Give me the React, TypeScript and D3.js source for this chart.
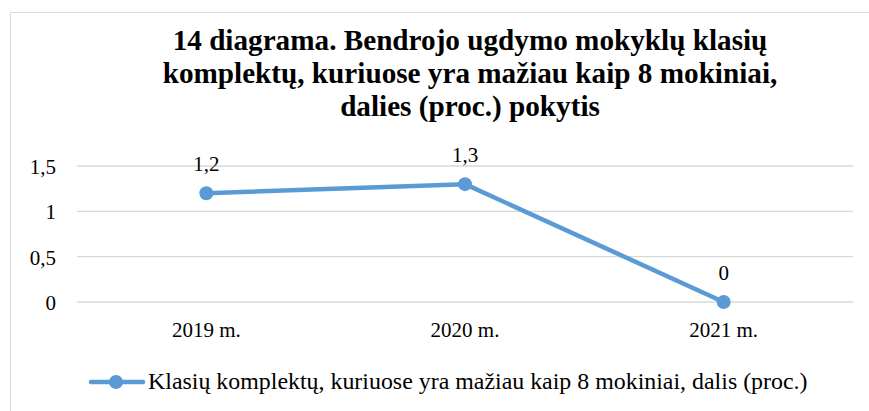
import React from "react";
import * as d3 from "d3";

const categories = ["2019 m.", "2020 m.", "2021 m."];
const values = [1.2, 1.3, 0];
const valueLabels = ["1,2", "1,3", "0"];
const yTicks = [0, 0.5, 1, 1.5];
const yTickLabels = ["0", "0,5", "1", "1,5"];
const titleLines = [
  "14 diagrama. Bendrojo ugdymo mokyklų klasių",
  "komplektų, kuriuose yra mažiau kaip 8 mokiniai,",
  "dalies (proc.) pokytis",
];
const seriesName = "Klasių komplektų, kuriuose yra mažiau kaip 8 mokiniai, dalis (proc.)";

const W = 869;
const H = 411;
const color = "#5B9BD5";
const fontStyle = { fontFamily: "Liberation Serif, Times New Roman, DejaVu Serif, serif" };

export default function App() {
  const x = d3.scaleBand<string>().domain(categories).range([77, 853]);
  const y = d3.scaleLinear().domain([0, 1.5]).range([302, 166]);
  const line = d3
    .line<number>()
    .x((_, i) => (x(categories[i]) as number) + x.bandwidth() / 2)
    .y((d) => y(d));

  return (
    <svg
      width={W}
      height={H}
      style={{ position: "absolute", left: 0, top: 0, background: "#fff", ...fontStyle }}
    >
      <rect x={0} y={0} width={W} height={H} fill="#fff" />
      <path d={`M10.5,${H + 2} V12.5 H${W + 2}`} fill="none" stroke="#d9d9d9" strokeWidth={1} />
      {titleLines.map((t, i) => (
        <text
          key={i}
          x={470}
          y={50 + i * 33}
          textAnchor="middle"
          fontSize={29.2}
          fontWeight="bold"
          fill="#000"
          style={fontStyle}
        >
          {t}
        </text>
      ))}
      {yTicks.map((t, i) => (
        <g key={t}>
          <line x1={77} x2={853} y1={y(t)} y2={y(t)} stroke="#d9d9d9" strokeWidth={1.3} />
          <text x={56} y={y(t) + 8} textAnchor="end" fontSize={21} fill="#000" style={fontStyle}>
            {yTickLabels[i]}
          </text>
        </g>
      ))}
      {categories.map((c) => (
        <text
          key={c}
          x={(x(c) as number) + x.bandwidth() / 2}
          y={337}
          textAnchor="middle"
          fontSize={21}
          fill="#000"
          style={fontStyle}
        >
          {c}
        </text>
      ))}
      <path d={line(values) || ""} fill="none" stroke={color} strokeWidth={4.5} strokeLinejoin="round" />
      {values.map((v, i) => {
        const cx = (x(categories[i]) as number) + x.bandwidth() / 2;
        return (
          <g key={i}>
            <circle cx={cx} cy={y(v)} r={7} fill={color} />
            <text x={cx} y={y(v) - 22.5} textAnchor="middle" fontSize={21} fill="#000" style={fontStyle}>
              {valueLabels[i]}
            </text>
          </g>
        );
      })}
      <line x1={91} x2={143} y1={382} y2={382} stroke={color} strokeWidth={4.5} strokeLinecap="round" />
      <circle cx={116} cy={382} r={7} fill={color} />
      <text x={148} y={389} fontSize={23.9} fill="#000" style={fontStyle}>
        {seriesName}
      </text>
    </svg>
  );
}
